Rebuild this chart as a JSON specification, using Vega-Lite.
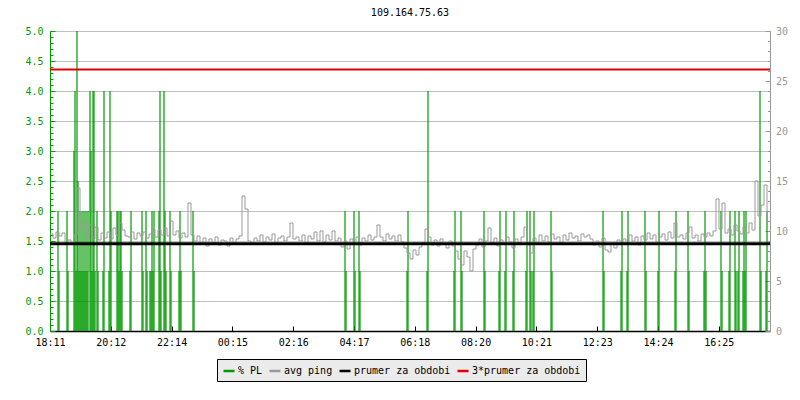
{
  "$schema": "https://vega.github.io/schema/vega-lite/v6.json",
  "width": 720,
  "height": 300,
  "autosize": {"type": "none"},
  "padding": {"left": 50, "top": 31, "right": 30, "bottom": 69},
  "background": "white",
  "title": {"text": "109.164.75.63", "font": "DejaVu Sans Mono", "fontSize": 10, "fontWeight": "normal", "color": "black", "offset": 0, "baseline": "alphabetic", "anchor": "middle"},
  "config": {
    "view": {"stroke": null},
    "axis": {"labelFont": "DejaVu Sans Mono", "labelFontSize": 10, "titleFont": "DejaVu Sans Mono"},
    "legend": {"labelFont": "DejaVu Sans Mono", "labelFontSize": 10}
  },
  "datasets": {
    "pl": [
      {"t":16,"v":2},{"t":18,"v":1},{"t":34,"v":2},{"t":36,"v":1},{"t":48,"v":3},{"t":50,"v":4},{"t":52,"v":1},{"t":54,"v":6},{"t":56,"v":2.5},{"t":58,"v":1},{"t":60,"v":2},{"t":62,"v":1},{"t":64,"v":2},{"t":66,"v":1},{"t":68,"v":2},{"t":70,"v":1},{"t":72,"v":2},{"t":74,"v":1},{"t":76,"v":2},{"t":80,"v":4},{"t":82,"v":3},{"t":84,"v":1},{"t":86,"v":4},{"t":88,"v":4},{"t":90,"v":1},{"t":94,"v":2},{"t":96,"v":1},{"t":106,"v":1},{"t":108,"v":4},{"t":118,"v":1},{"t":120,"v":4},{"t":122,"v":2},{"t":134,"v":2},{"t":136,"v":2},{"t":138,"v":1},{"t":140,"v":2},{"t":142,"v":2},{"t":144,"v":1},{"t":160,"v":1},{"t":162,"v":2},{"t":184,"v":2},{"t":186,"v":1},{"t":192,"v":2},{"t":194,"v":1},{"t":200,"v":1},{"t":202,"v":1},{"t":204,"v":2},{"t":206,"v":1},{"t":208,"v":2},{"t":218,"v":2},{"t":220,"v":4},{"t":222,"v":1},{"t":228,"v":4},{"t":230,"v":2},{"t":232,"v":1},{"t":240,"v":2},{"t":242,"v":1},{"t":258,"v":1},{"t":260,"v":2},{"t":262,"v":1},{"t":286,"v":2},{"t":288,"v":1},
      {"t":590,"v":2},{"t":592,"v":1},{"t":608,"v":2},{"t":610,"v":1},{"t":618,"v":2},{"t":620,"v":1},{"t":714,"v":1},{"t":716,"v":2},{"t":754,"v":1},{"t":756,"v":4},{"t":808,"v":1},{"t":810,"v":2},{"t":822,"v":2},{"t":824,"v":1},{"t":868,"v":2},{"t":870,"v":1},{"t":898,"v":1},{"t":900,"v":2},{"t":910,"v":1},{"t":912,"v":2},{"t":926,"v":1},{"t":928,"v":2},{"t":952,"v":1},{"t":954,"v":2},{"t":960,"v":2},{"t":962,"v":1},{"t":966,"v":1},{"t":968,"v":2},{"t":1002,"v":2},{"t":1004,"v":1},{"t":1106,"v":2},{"t":1108,"v":1},{"t":1142,"v":1},{"t":1144,"v":2},{"t":1154,"v":1},{"t":1156,"v":2},{"t":1190,"v":2},{"t":1192,"v":1},{"t":1216,"v":1},{"t":1218,"v":2},{"t":1250,"v":1},{"t":1252,"v":2},{"t":1276,"v":2},{"t":1278,"v":1},{"t":1308,"v":1},{"t":1310,"v":2},{"t":1312,"v":1},{"t":1342,"v":2},{"t":1344,"v":1},{"t":1358,"v":1},{"t":1360,"v":2},{"t":1370,"v":2},{"t":1372,"v":1},{"t":1376,"v":1},{"t":1378,"v":2},{"t":1386,"v":1},{"t":1388,"v":2},{"t":1390,"v":1},{"t":1392,"v":2},{"t":1420,"v":4},{"t":1422,"v":1},{"t":1432,"v":1},{"t":1434,"v":2}
    ],
    "ping": [
      {"t":0,"p":9.7},{"t":6,"p":9.3},{"t":12,"p":9.9},{"t":18,"p":9.5},{"t":24,"p":9.8},{"t":30,"p":8.7},{"t":36,"p":9.1},{"t":42,"p":8.8},{"t":48,"p":9.6},{"t":54,"p":14.3},{"t":60,"p":10.2},{"t":66,"p":10.8},{"t":72,"p":9.3},{"t":78,"p":10.6},{"t":84,"p":9.2},{"t":90,"p":10.4},{"t":96,"p":9.1},{"t":102,"p":9.8},{"t":108,"p":9.3},{"t":114,"p":9.9},{"t":120,"p":9.2},{"t":126,"p":10.3},{"t":132,"p":9.6},{"t":138,"p":10.8},{"t":144,"p":10.1},{"t":150,"p":9.5},{"t":156,"p":9.4},{"t":162,"p":9.9},{"t":168,"p":9.2},{"t":174,"p":9.8},{"t":180,"p":9.5},{"t":186,"p":9.9},{"t":192,"p":9.3},{"t":198,"p":9.7},{"t":204,"p":10.2},{"t":210,"p":9.4},{"t":216,"p":10.1},{"t":222,"p":9.6},{"t":228,"p":10.3},{"t":234,"p":9.5},{"t":240,"p":11.0},{"t":246,"p":9.6},{"t":252,"p":10.0},{"t":258,"p":9.3},{"t":264,"p":9.8},{"t":270,"p":9.4},{"t":276,"p":12.8},{"t":282,"p":9.6},{"t":288,"p":9.0},{"t":294,"p":9.5},{"t":300,"p":8.7},{"t":306,"p":9.3},{"t":312,"p":8.5},{"t":318,"p":9.2},{"t":324,"p":8.8},{"t":330,"p":9.4},{"t":336,"p":8.6},{"t":342,"p":9.1},{"t":348,"p":9.0},{"t":354,"p":8.5},{"t":360,"p":9.3},{"t":366,"p":8.8},{"t":372,"p":9.2},{"t":378,"p":9.5},{"t":384,"p":13.5},{"t":390,"p":12.2},{"t":396,"p":9.0},{"t":402,"p":8.8},{"t":408,"p":9.3},{"t":414,"p":9.0},{"t":420,"p":9.6},{"t":426,"p":8.9},{"t":432,"p":9.4},{"t":438,"p":9.1},{"t":444,"p":9.7},{"t":450,"p":8.8},{"t":456,"p":9.3},{"t":462,"p":9.5},{"t":468,"p":9.0},{"t":474,"p":9.4},{"t":480,"p":10.8},{"t":486,"p":9.2},{"t":492,"p":9.4},{"t":498,"p":9.0},{"t":504,"p":9.6},{"t":510,"p":8.8},{"t":516,"p":9.5},{"t":522,"p":9.2},{"t":528,"p":9.9},{"t":534,"p":9.0},{"t":540,"p":10.0},{"t":546,"p":8.9},{"t":552,"p":9.6},{"t":558,"p":9.1},{"t":564,"p":10.0},{"t":570,"p":9.0},{"t":576,"p":9.3},{"t":582,"p":8.4},{"t":588,"p":9.0},{"t":594,"p":8.2},{"t":600,"p":9.2},{"t":606,"p":8.8},{"t":612,"p":9.4},{"t":618,"p":8.6},{"t":624,"p":9.3},{"t":630,"p":9.0},{"t":636,"p":9.6},{"t":642,"p":9.1},{"t":648,"p":9.4},{"t":654,"p":10.6},{"t":660,"p":9.4},{"t":666,"p":9.0},{"t":672,"p":9.7},{"t":678,"p":9.2},{"t":684,"p":9.5},{"t":690,"p":9.0},{"t":696,"p":9.6},{"t":702,"p":8.9},{"t":708,"p":8.3},{"t":714,"p":7.8},{"t":720,"p":7.2},{"t":726,"p":8.1},{"t":732,"p":7.6},{"t":738,"p":8.4},{"t":744,"p":8.8},{"t":750,"p":10.2},{"t":756,"p":9.4},{"t":762,"p":8.6},{"t":768,"p":9.1},{"t":774,"p":8.5},{"t":780,"p":9.2},{"t":786,"p":8.7},{"t":792,"p":8.3},{"t":798,"p":9.0},{"t":804,"p":8.5},{"t":810,"p":8.0},{"t":816,"p":7.2},{"t":822,"p":6.6},{"t":828,"p":8.0},{"t":834,"p":7.4},{"t":840,"p":6.0},{"t":846,"p":8.2},{"t":852,"p":8.6},{"t":858,"p":9.2},{"t":864,"p":8.4},{"t":870,"p":9.0},{"t":876,"p":10.3},{"t":882,"p":8.8},{"t":888,"p":9.3},{"t":894,"p":8.5},{"t":900,"p":9.1},{"t":906,"p":8.7},{"t":912,"p":9.4},{"t":918,"p":8.9},{"t":924,"p":8.3},{"t":930,"p":9.2},{"t":936,"p":8.8},{"t":942,"p":9.4},{"t":948,"p":10.4},{"t":954,"p":8.6},{"t":960,"p":7.8},{"t":966,"p":9.3},{"t":972,"p":8.7},{"t":978,"p":9.6},{"t":984,"p":9.0},{"t":990,"p":9.5},{"t":996,"p":8.9},{"t":1002,"p":9.7},{"t":1008,"p":9.2},{"t":1014,"p":9.4},{"t":1020,"p":8.8},{"t":1026,"p":9.6},{"t":1032,"p":9.1},{"t":1038,"p":9.8},{"t":1044,"p":9.3},{"t":1050,"p":9.5},{"t":1056,"p":9.0},{"t":1062,"p":9.7},{"t":1068,"p":9.4},{"t":1074,"p":9.6},{"t":1080,"p":9.2},{"t":1086,"p":8.6},{"t":1092,"p":9.0},{"t":1098,"p":8.4},{"t":1104,"p":9.3},{"t":1110,"p":8.1},{"t":1116,"p":7.9},{"t":1122,"p":8.8},{"t":1128,"p":8.3},{"t":1134,"p":9.1},{"t":1140,"p":8.7},{"t":1146,"p":9.2},{"t":1152,"p":8.8},{"t":1158,"p":9.6},{"t":1164,"p":9.0},{"t":1170,"p":9.4},{"t":1176,"p":8.6},{"t":1182,"p":9.5},{"t":1188,"p":9.1},{"t":1194,"p":9.8},{"t":1200,"p":9.2},{"t":1206,"p":9.6},{"t":1212,"p":8.9},{"t":1218,"p":9.4},{"t":1224,"p":9.7},{"t":1230,"p":9.1},{"t":1236,"p":9.9},{"t":1242,"p":9.3},{"t":1248,"p":10.8},{"t":1254,"p":9.4},{"t":1260,"p":9.6},{"t":1266,"p":9.2},{"t":1272,"p":9.8},{"t":1278,"p":10.4},{"t":1284,"p":9.3},{"t":1290,"p":9.6},{"t":1296,"p":9.0},{"t":1302,"p":9.7},{"t":1308,"p":9.4},{"t":1314,"p":9.8},{"t":1320,"p":9.5},{"t":1326,"p":10.0},{"t":1332,"p":13.2},{"t":1338,"p":10.2},{"t":1344,"p":12.8},{"t":1350,"p":9.8},{"t":1356,"p":10.2},{"t":1362,"p":9.6},{"t":1368,"p":10.6},{"t":1374,"p":10.0},{"t":1380,"p":9.7},{"t":1386,"p":10.4},{"t":1392,"p":9.8},{"t":1398,"p":10.8},{"t":1404,"p":10.1},{"t":1410,"p":15.0},{"t":1416,"p":11.5},{"t":1422,"p":12.6},{"t":1428,"p":14.6},{"t":1434,"p":10.5}
    ]
  },
  "layer": [
    {
      "data": {"name": "pl"},
      "mark": {"type": "rule", "strokeWidth": 1.2, "clip": true},
      "encoding": {
        "x": {
          "field": "t", "type": "quantitative",
          "scale": {"domain": [0, 1440], "nice": false, "zero": false},
          "axis": {
            "title": null, "grid": false,
            "values": [0, 121.6, 243.2, 364.8, 486.4, 608, 729.6, 851.2, 972.8, 1094.4, 1216, 1337.6],
            "labelExpr": "['18:11','20:12','22:14','00:15','02:16','04:17','06:18','08:20','10:21','12:23','14:24','16:25'][round(datum.value/121.6)]",
            "labelFlush": false, "labelOverlap": false, "labelBound": false,
            "domainColor": "black", "domainWidth": 1.5, "tickColor": "black",
            "tickSize": -5, "labelPadding": 11, "labelColor": "black"
          }
        },
        "y": {
          "field": "v", "type": "quantitative",
          "scale": {"domain": [0, 5], "nice": false},
          "axis": {
            "orient": "left", "title": null,
            "values": [0,0.1,0.2,0.3,0.4,0.5,0.6,0.7,0.8,0.9,1,1.1,1.2,1.3,1.4,1.5,1.6,1.7,1.8,1.9,2,2.1,2.2,2.3,2.4,2.5,2.6,2.7,2.8,2.9,3,3.1,3.2,3.3,3.4,3.5,3.6,3.7,3.8,3.9,4,4.1,4.2,4.3,4.4,4.5,4.6,4.7,4.8,4.9,5],
            "labelExpr": "abs(datum.value*2 - round(datum.value*2)) < 0.01 ? format(datum.value, '.1f') : ''",
            "labelOverlap": false, "labelFlush": false,
            "labelColor": "#009900", "domainColor": "#009900", "tickColor": "#009900",
            "tickSize": {"condition": {"test": "abs(datum.value*2 - round(datum.value*2)) < 0.01", "value": -5}, "value": -3},
            "labelPadding": 12,
            "grid": true, "gridColor": "#c0c0c0",
            "gridOpacity": {"condition": {"test": "abs(datum.value*2 - round(datum.value*2)) < 0.01", "value": 1}, "value": 0}
          }
        },
        "y2": {"datum": 0},
        "color": {
          "datum": "% PL", "type": "nominal",
          "scale": {"domain": ["% PL", "avg ping", "prumer za obdobi", "3*prumer za obdobi"], "range": ["#009900", "#999999", "#000000", "#e00000"]},
          "legend": {
            "orient": "none", "legendX": 167, "legendY": 328, "direction": "horizontal", "columns": 4,
            "title": null, "symbolType": "stroke", "symbolSize": 121, "symbolStrokeWidth": 2.5,
            "labelColor": "black", "labelOffset": 2, "columnPadding": 1, "padding": 5,
            "fillColor": "#ebebeb", "strokeColor": "black"
          }
        }
      }
    },
    {
      "layer": [
        {
          "data": {"name": "ping"},
          "mark": {"type": "line", "interpolate": "step-after", "strokeWidth": 1, "clip": true},
          "encoding": {
            "x": {"field": "t", "type": "quantitative"},
            "y": {
              "field": "p", "type": "quantitative",
              "scale": {"domain": [0, 30], "nice": false},
              "axis": {
                "orient": "right", "title": null, "grid": false,
                "values": [0,1,2,3,4,5,6,7,8,9,10,11,12,13,14,15,16,17,18,19,20,21,22,23,24,25,26,27,28,29,30],
                "labelExpr": "datum.value % 5 == 0 ? format(datum.value, 'd') : ''",
                "labelOverlap": false, "labelFlush": false, "labelBound": false,
                "labelColor": "#999999", "domainColor": "#999999", "tickColor": "#999999",
                "tickSize": {"condition": {"test": "datum.value % 5 == 0", "value": -5}, "value": -2.5},
                "labelPadding": 10.5
              }
            },
            "color": {"datum": "avg ping", "type": "nominal"}
          }
        },
        {
          "data": {"values": [{"ms": 8.72}]},
          "mark": {"type": "rule", "strokeWidth": 3},
          "encoding": {
            "y": {
              "field": "ms", "type": "quantitative",
              "axis": {
                "orient": "right", "title": null, "grid": false,
                "values": [0,1,2,3,4,5,6,7,8,9,10,11,12,13,14,15,16,17,18,19,20,21,22,23,24,25,26,27,28,29,30],
                "labelExpr": "datum.value % 5 == 0 ? format(datum.value, 'd') : ''",
                "labelOverlap": false, "labelFlush": false, "labelBound": false,
                "labelColor": "#999999", "domainColor": "#999999", "tickColor": "#999999",
                "tickSize": {"condition": {"test": "datum.value % 5 == 0", "value": -5}, "value": -2.5},
                "labelPadding": 10.5
              }
            },
            "color": {"datum": "prumer za obdobi", "type": "nominal"}
          }
        },
        {
          "data": {"values": [{"ms": 26.16}]},
          "mark": {"type": "rule", "strokeWidth": 2},
          "encoding": {
            "y": {
              "field": "ms", "type": "quantitative",
              "axis": {
                "orient": "right", "title": null, "grid": false,
                "values": [0,1,2,3,4,5,6,7,8,9,10,11,12,13,14,15,16,17,18,19,20,21,22,23,24,25,26,27,28,29,30],
                "labelExpr": "datum.value % 5 == 0 ? format(datum.value, 'd') : ''",
                "labelOverlap": false, "labelFlush": false, "labelBound": false,
                "labelColor": "#999999", "domainColor": "#999999", "tickColor": "#999999",
                "tickSize": {"condition": {"test": "datum.value % 5 == 0", "value": -5}, "value": -2.5},
                "labelPadding": 10.5
              }
            },
            "color": {"datum": "3*prumer za obdobi", "type": "nominal"}
          }
        }
      ]
    }
  ],
  "resolve": {"scale": {"y": "independent"}}
}
